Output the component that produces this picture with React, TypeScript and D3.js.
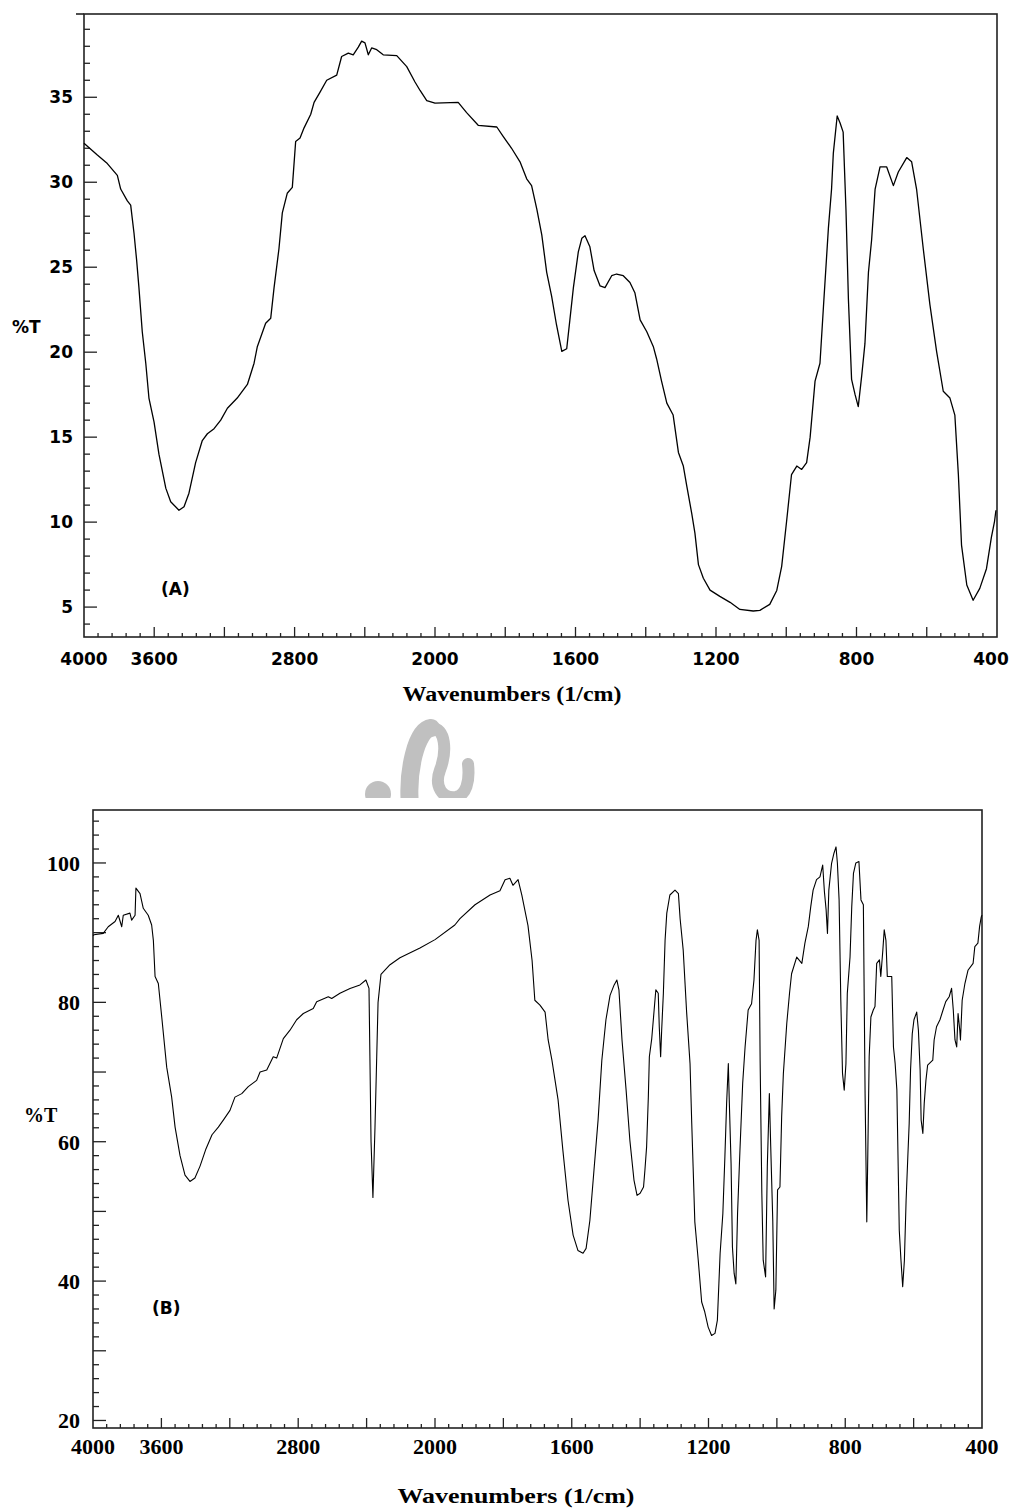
import React, { useRef, useEffect } from "react";
import * as d3 from "d3";

// spectrum (A): [wavenumber 1/cm, %T]
const spectrumA: [number, number][] = [
  [4000, 32.3], [3924, 31.6], [3867, 31.1], [3810, 30.4], [3791, 29.6], [3753, 28.9], [3734, 28.65], [3715, 27.0],
  [3700, 25.4], [3687, 23.8], [3668, 21.2], [3648, 19.35], [3630, 17.3], [3601, 15.9], [3573, 14.0], [3534, 12.0],
  [3506, 11.2], [3459, 10.7], [3430, 10.9], [3402, 11.7], [3364, 13.5], [3326, 14.8], [3297, 15.2], [3259, 15.5],
  [3221, 16.0], [3183, 16.7], [3127, 17.3], [3069, 18.1], [3031, 19.35], [3013, 20.3], [2965, 21.7], [2936, 22.0],
  [2917, 23.8], [2889, 26.1], [2870, 28.2], [2842, 29.35], [2813, 29.7], [2794, 32.4], [2769, 32.6], [2746, 33.2],
  [2708, 34.0], [2689, 34.7], [2655, 35.3], [2617, 36.0], [2560, 36.3], [2532, 37.4], [2494, 37.6], [2466, 37.5],
  [2437, 37.95], [2418, 38.3], [2399, 38.2], [2380, 37.5], [2361, 37.9], [2332, 37.8], [2295, 37.5], [2218, 37.45],
  [2161, 36.8], [2114, 35.9], [2085, 35.4], [2047, 34.8], [2000, 34.65], [1934, 34.7], [1910, 34.1], [1877, 33.35],
  [1824, 33.25], [1806, 32.7], [1782, 32.0], [1758, 31.2], [1739, 30.2], [1725, 29.8], [1710, 28.4], [1696, 26.9],
  [1682, 24.7], [1668, 23.3], [1654, 21.6], [1639, 20.05], [1625, 20.2], [1616, 21.9], [1606, 23.8], [1592, 25.9],
  [1582, 26.7], [1573, 26.85], [1559, 26.2], [1547, 24.8], [1530, 23.9], [1516, 23.8], [1497, 24.5], [1483, 24.6],
  [1464, 24.5], [1445, 24.1], [1431, 23.5], [1416, 21.9], [1397, 21.2], [1378, 20.3], [1369, 19.6], [1355, 18.3],
  [1340, 17.0], [1322, 16.3], [1307, 14.1], [1293, 13.3], [1283, 12.1], [1269, 10.5], [1260, 9.35], [1250, 7.5],
  [1236, 6.7], [1217, 6.0], [1189, 5.63], [1160, 5.28], [1132, 4.86], [1094, 4.77], [1075, 4.81], [1047, 5.16],
  [1027, 5.98], [1013, 7.4], [999, 10.05], [985, 12.8], [970, 13.3], [956, 13.1], [942, 13.5], [932, 15.0],
  [918, 18.3], [904, 19.35], [894, 22.7], [880, 27.3], [871, 29.6], [866, 31.7], [855, 33.9], [847, 33.5],
  [838, 32.95], [830, 28.4], [823, 23.1], [814, 18.4], [804, 17.5], [795, 16.8], [785, 18.65], [776, 20.5],
  [766, 24.7], [757, 26.6], [747, 29.6], [733, 30.9], [714, 30.9], [695, 29.8], [681, 30.6], [657, 31.45],
  [643, 31.2], [629, 29.6], [610, 26.1], [591, 22.8], [572, 20.05], [553, 17.7], [534, 17.3], [520, 16.3],
  [510, 12.8], [501, 8.65], [486, 6.3], [468, 5.4], [449, 6.1], [430, 7.26], [416, 9.1], [407, 10.05], [403, 10.7],
];

// spectrum (B): [wavenumber 1/cm, %T]
const spectrumB: [number, number][] = [
  [4000, 89.6], [3994, 89.7], [3940, 89.9], [3911, 90.85], [3871, 91.6], [3852, 92.5], [3832, 90.85], [3823, 92.5],
  [3784, 92.8], [3774, 91.8], [3754, 92.5], [3749, 96.4], [3725, 95.6], [3706, 93.5], [3677, 92.5], [3657, 91.1],
  [3647, 88.9], [3637, 83.7], [3618, 82.7], [3598, 77.9], [3569, 70.7], [3540, 66.4], [3520, 62.1], [3491, 58.0],
  [3462, 55.2], [3433, 54.3], [3404, 54.8], [3374, 56.5], [3339, 59.0], [3304, 61.0], [3267, 62.1], [3238, 63.1],
  [3199, 64.5], [3170, 66.4], [3130, 66.9], [3092, 67.9], [3043, 68.8], [3023, 70.0], [2984, 70.3], [2946, 72.2],
  [2926, 72.0], [2887, 74.8], [2848, 76.0], [2809, 77.5], [2770, 78.4], [2712, 79.1], [2692, 80.1], [2624, 80.8],
  [2604, 80.55], [2556, 81.3], [2497, 82.0], [2439, 82.5], [2404, 83.2], [2386, 82.0], [2374, 60.0], [2363, 52.0],
  [2351, 62.0], [2333, 80.0], [2316, 84.0], [2263, 85.4], [2205, 86.4], [2088, 87.8], [2000, 89.0], [1942, 91.1],
  [1927, 92.0], [1883, 94.0], [1839, 95.4], [1810, 96.0], [1795, 97.6], [1781, 97.8], [1772, 96.8], [1757, 97.6],
  [1746, 95.4], [1728, 91.0], [1716, 86.0], [1708, 80.3], [1693, 79.6], [1678, 78.6], [1669, 74.6], [1658, 71.7],
  [1640, 66.0], [1626, 58.8], [1611, 51.6], [1596, 46.6], [1582, 44.4], [1567, 44.0], [1558, 44.7], [1547, 48.7],
  [1535, 55.9], [1523, 63.1], [1512, 71.7], [1500, 77.5], [1488, 81.0], [1476, 82.5], [1468, 83.2], [1462, 81.8],
  [1453, 74.6], [1441, 67.4], [1430, 60.2], [1418, 54.5], [1409, 52.3], [1400, 52.6], [1390, 53.5], [1386, 55.9],
  [1381, 59.3], [1376, 66.4], [1373, 72.2], [1366, 74.8], [1359, 78.9], [1354, 81.8], [1347, 81.3], [1344, 76.5],
  [1340, 72.2], [1337, 76.0], [1332, 81.3], [1327, 88.9], [1322, 92.8], [1313, 95.4], [1298, 96.1], [1288, 95.6],
  [1283, 92.0], [1274, 87.5], [1264, 78.6], [1254, 71.2], [1249, 62.6], [1245, 56.4], [1240, 48.5], [1230, 43.0],
  [1220, 37.0], [1211, 35.6], [1201, 33.4], [1191, 32.2], [1181, 32.5], [1174, 34.4], [1166, 44.0], [1158, 49.7],
  [1152, 57.9], [1147, 65.5], [1142, 71.2], [1139, 65.5], [1134, 56.9], [1130, 44.9], [1125, 41.1], [1120, 39.6],
  [1115, 49.7], [1108, 58.8], [1100, 68.4], [1093, 73.6], [1084, 78.9], [1074, 79.8], [1067, 83.2], [1061, 88.9],
  [1057, 90.4], [1052, 88.9], [1049, 71.7], [1044, 52.6], [1040, 43.0], [1033, 40.6], [1028, 56.4], [1022, 66.9],
  [1018, 59.3], [1012, 48.7], [1008, 36.0], [1003, 38.7], [998, 53.1], [991, 53.5], [986, 63.6], [981, 69.8],
  [971, 77.0], [963, 81.3], [957, 84.1], [942, 86.5], [927, 85.6], [918, 88.5], [908, 90.9], [901, 93.7],
  [894, 96.1], [884, 97.6], [874, 98.0], [866, 99.7], [861, 95.9], [856, 93.3], [852, 89.9], [848, 96.1],
  [840, 99.95], [833, 101.4], [827, 102.3], [823, 100.0], [818, 94.7], [813, 80.3], [808, 69.8], [803, 67.4],
  [798, 71.2], [794, 81.3], [786, 86.5], [781, 93.7], [776, 98.5], [769, 100.0], [760, 100.2], [754, 94.7],
  [747, 94.0], [742, 66.9], [737, 48.5], [734, 58.3], [730, 72.2], [725, 77.9], [718, 78.9], [713, 79.4],
  [708, 85.6], [700, 86.1], [696, 83.7], [690, 87.5], [686, 90.4], [681, 88.9], [677, 83.7], [664, 83.7],
  [659, 73.6], [654, 71.2], [649, 67.4], [642, 47.3], [637, 43.0], [632, 39.2], [627, 43.0], [622, 51.6],
  [617, 57.8], [613, 62.6], [609, 70.3], [604, 75.5], [599, 77.5], [591, 78.6], [586, 76.0], [581, 70.3],
  [578, 63.1], [573, 61.2], [569, 65.5], [564, 68.8], [559, 71.0], [544, 71.7], [540, 74.6], [533, 76.5],
  [523, 77.5], [514, 78.9], [506, 80.1], [496, 80.8], [489, 82.0], [484, 78.9], [479, 74.6], [474, 73.6],
  [470, 78.4], [465, 76.0], [463, 74.6], [458, 80.3], [450, 82.7], [441, 84.6], [426, 85.6], [421, 88.0],
  [412, 88.5], [407, 90.9], [402, 92.3], [400, 92.5],
];

const xTickLabels = [4000, 3600, 2800, 2000, 1600, 1200, 800, 400];
const yLabelsA = [5, 10, 15, 20, 25, 30, 35];
const yLabelsB = [20, 40, 60, 80, 100];

const panels = [
  {
    data: spectrumA, name: "(A)", left: 84, mid: 435, right: 997, top: 14, bottom: 637, overhang: 8,
    yDomain: [3.24, 39.9], yMajor: 5, yMinor: 1, yLabels: yLabelsA,
    tickFont: "'DejaVu Sans', Verdana, sans-serif", tickSize: 17, labelRight: 73, xLabelY: 665, endShift: -6,
    unitFont: "'DejaVu Sans', sans-serif", unitSize: 17, unitX: 12, unitY: 333,
    nameX: 161, nameY: 595, titleX: 512, titleY: 701, titleSize: 20, titleLen: 219, lineWidth: 1.3,
  },
  {
    data: spectrumB, name: "(B)", left: 93, mid: 435, right: 982, top: 810, bottom: 1428, overhang: 0,
    yDomain: [18.92, 107.6], yMajor: 10, yMinor: 2, yLabels: yLabelsB,
    tickFont: "'Liberation Serif', 'Times New Roman', serif", tickSize: 22, labelRight: 80, xLabelY: 1454, endShift: 0,
    unitFont: "'Liberation Serif', serif", unitSize: 20, unitX: 24, unitY: 1122,
    nameX: 152, nameY: 1314, titleX: 516, titleY: 1503, titleSize: 22, titleLen: 237, lineWidth: 1.1,
  },
];

function App() {
  const svgRef = useRef<SVGSVGElement>(null);

  useEffect(() => {
    const svg = d3.select(svgRef.current);
    svg.selectAll("*").remove();

    panels.forEach(p => {
      const x = d3.scaleLinear().domain([4000, 2000, 400]).range([p.left, p.mid, p.right]);
      const y = d3.scaleLinear().domain(p.yDomain).range([p.bottom, p.top]);
      const g = svg.append("g");

      // x ticks: 400 steps above 2000, 200 steps below (compressed high range)
      const majorX = d3.range(2400, 4000, 400).concat(d3.range(600, 2001, 200));
      const minorX = d3.range(2080, 4000, 80).concat(d3.range(440, 2000, 40))
        .filter(v => !majorX.includes(v));
      g.selectAll(".xmaj").data(majorX).join("line")
        .attr("x1", d => x(d)).attr("x2", d => x(d))
        .attr("y1", p.bottom).attr("y2", p.bottom - 10)
        .attr("stroke", "#222").attr("stroke-width", 1.3);
      g.selectAll(".xmin").data(minorX).join("line")
        .attr("x1", d => x(d)).attr("x2", d => x(d))
        .attr("y1", p.bottom).attr("y2", p.bottom - 4)
        .attr("stroke", "#222").attr("stroke-width", 1.3);

      // y ticks
      const [y0, y1] = p.yDomain;
      const ymin = d3.range(Math.ceil(y0 / p.yMinor) * p.yMinor, y1, p.yMinor);
      g.selectAll(".ytick").data(ymin).join("line")
        .attr("x1", p.left)
        .attr("x2", d => p.left + (Math.abs(d % p.yMajor) < 1e-6 ? 13 : 6))
        .attr("y1", d => y(d)).attr("y2", d => y(d))
        .attr("stroke", "#222").attr("stroke-width", 1.3);

      // frame
      g.append("rect")
        .attr("x", p.left).attr("y", p.top)
        .attr("width", p.right - p.left).attr("height", p.bottom - p.top)
        .attr("fill", "none").attr("stroke", "#222").attr("stroke-width", 1.6);
      if (p.overhang) {
        g.append("line").attr("x1", p.left - p.overhang).attr("x2", p.left)
          .attr("y1", p.top).attr("y2", p.top).attr("stroke", "#222").attr("stroke-width", 1.6);
      }

      // tick labels
      g.selectAll(".xl").data(xTickLabels).join("text")
        .attr("x", d => x(d) + (d === 400 ? p.endShift : 0)).attr("y", p.xLabelY)
        .attr("text-anchor", "middle")
        .style("font", `bold ${p.tickSize}px ${p.tickFont}`)
        .text(d => d);
      g.selectAll(".yl").data(p.yLabels).join("text")
        .attr("x", p.labelRight).attr("y", d => y(d))
        .attr("dy", "0.36em").attr("text-anchor", "end")
        .style("font", `bold ${p.tickSize}px ${p.tickFont}`)
        .text(d => d);

      g.append("text").attr("x", p.unitX).attr("y", p.unitY)
        .style("font", `bold ${p.unitSize}px ${p.unitFont}`).text("%T");
      g.append("text").attr("x", p.nameX).attr("y", p.nameY)
        .style("font", "bold 17px 'DejaVu Sans', sans-serif").text(p.name);
      g.append("text").attr("x", p.titleX).attr("y", p.titleY)
        .attr("text-anchor", "middle")
        .attr("textLength", p.titleLen).attr("lengthAdjust", "spacingAndGlyphs")
        .style("font", `bold ${p.titleSize}px 'Liberation Serif', serif`)
        .text("Wavenumbers (1/cm)");

      // spectrum trace
      const line = d3.line<[number, number]>().x(d => x(d[0])).y(d => y(d[1]));
      g.append("path").datum(p.data)
        .attr("d", line)
        .attr("fill", "none").attr("stroke", "#000")
        .attr("stroke-width", p.lineWidth).attr("stroke-linejoin", "round");
    });

    // faint watermark between the panels
    const defs = svg.append("defs");
    defs.append("clipPath").attr("id", "wm").append("rect")
      .attr("x", 340).attr("y", 700).attr("width", 200).attr("height", 98);
    const wm = svg.append("g").attr("clip-path", "url(#wm)");
    wm.append("circle").attr("cx", 378).attr("cy", 794).attr("r", 13).attr("fill", "#c0c0c0");
    wm.append("path")
      .attr("d", "M410,805 C407,772 416,730 431,728")
      .attr("fill", "none").attr("stroke", "#c0c0c0").attr("stroke-width", 18).attr("stroke-linecap", "round");
    wm.append("path")
      .attr("d", "M431,728 C446,727 447,752 440,770 C434,786 442,799 456,797 C466,795 470,782 468,764")
      .attr("fill", "none").attr("stroke", "#c0c0c0").attr("stroke-width", 12).attr("stroke-linecap", "round");
  }, []);

  return (
    <svg ref={svgRef} width={1013} height={1509}
      style={{ position: "absolute", left: 0, top: 0, background: "#fff" }} />
  );
}

export default App;
